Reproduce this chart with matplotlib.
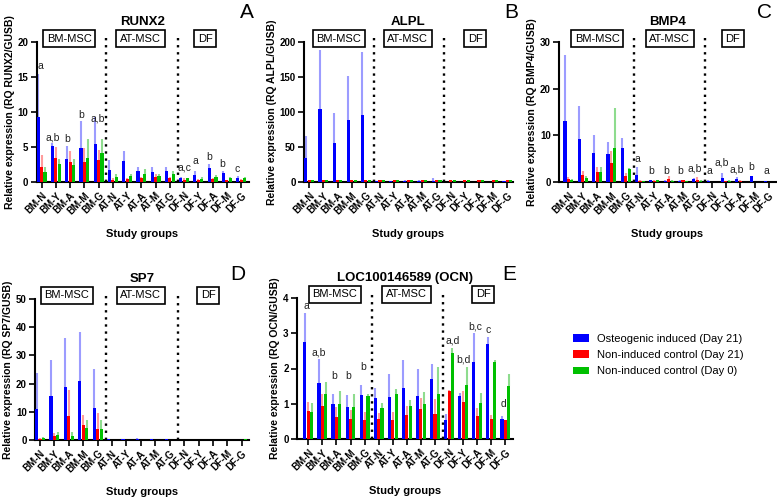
import numpy as np
import matplotlib.pyplot as plt
from matplotlib.patches import Patch

plt.rcParams['font.family'] = ['Liberation Sans', 'DejaVu Sans']

groups = ['BM-N', 'BM-Y', 'BM-A', 'BM-M', 'BM-G',
          'AT-N', 'AT-Y', 'AT-A', 'AT-M', 'AT-G',
          'DF-N', 'DF-Y', 'DF-A', 'DF-M', 'DF-G']
legend_labels = ['Osteogenic induced (Day 21)', 'Non-induced control (Day 21)',
                 'Non-induced control (Day 0)']
region_labels = ['BM-MSC', 'AT-MSC', 'DF']
bar_colors = ['#0000FF', '#FF0000', '#00C000']
err_colors = ['#9C9CFF', '#FF9C9C', '#8EDC8E']

# RUNX2 (mean and top of error bar for induced d21, control d21, control d0)
runx2_ind = [9.3, 5.2, 3.3, 4.8, 5.4, 1.7, 3.0, 1.6, 1.4, 1.6, 0.6, 1.0, 2.0, 1.3, 0.6]
runx2_ind_top = [15.4, 5.6, 5.1, 8.7, 9.3, 3.1, 4.4, 2.2, 2.2, 2.2, 0.7, 1.6, 2.6, 1.5, 0.8]
runx2_c21 = [2.2, 3.4, 2.8, 2.9, 3.1, 0.3, 0.4, 0.5, 0.7, 0.6, 0.3, 0.3, 0.4, 0.3, 0.3]
runx2_c21_top = [3.8, 5.0, 4.4, 4.8, 4.5, 0.5, 0.6, 0.7, 1.2, 0.7, 0.5, 0.4, 0.5, 0.3, 0.4]
runx2_c0 = [1.4, 2.6, 2.4, 3.4, 4.2, 0.7, 0.8, 1.1, 0.9, 1.1, 0.5, 0.4, 0.7, 0.6, 0.6]
runx2_c0_top = [2.1, 3.3, 3.3, 6.1, 6.2, 1.1, 1.1, 1.8, 1.2, 1.6, 0.6, 0.7, 1.0, 0.7, 0.7]
runx2_letters = [(-0.08, 15.9, 'a'), (0.76, 5.7, 'a,b'), (1.76, 5.5, 'b'), (2.77, 8.8, 'b'),
                 (3.96, 8.3, 'a,b'), (10.03, 1.3, 'a,c'), (10.77, 2.3, 'a'), (11.73, 2.9, 'b'),
                 (12.70, 1.8, 'b'), (13.71, 1.2, 'c')]

# ALPL
alpl_ind = [34, 104, 56, 88, 96, 0.8, 0.8, 1.5, 1.2, 2.0, 0.5, 0.5, 0.6, 0.5, 0.8]
alpl_ind_top = [66, 188, 98, 152, 186, 1.2, 1.2, 3.0, 2.5, 5.5, 0.8, 0.8, 0.9, 0.8, 1.3]
alpl_c21 = [2.5, 2.5, 2.5, 2.5, 2.5, 2.5, 2.5, 2.5, 2.5, 2.5, 2.5, 2.5, 2.5, 2.5, 2.5]
alpl_c21_top = [2.8, 2.8, 2.8, 2.8, 2.8, 2.8, 2.8, 2.8, 2.8, 2.8, 2.8, 2.8, 2.8, 2.8, 2.8]
alpl_c0 = [2.2, 2.2, 2.2, 2.2, 2.2, 2.2, 2.2, 2.2, 2.2, 2.2, 2.2, 2.2, 2.2, 2.2, 2.2]
alpl_c0_top = [2.5, 2.5, 2.5, 2.5, 2.5, 2.5, 2.5, 2.5, 2.5, 2.5, 2.5, 2.5, 2.5, 2.5, 2.5]

# BMP4
bmp4_ind = [13.1, 9.2, 6.2, 6.1, 7.2, 1.6, 0.4, 0.3, 0.3, 0.6, 0.3, 0.9, 0.7, 1.2, 0.2]
bmp4_ind_top = [27.2, 16.2, 10.0, 8.5, 9.4, 3.3, 0.5, 0.4, 0.4, 0.9, 0.5, 2.0, 1.0, 1.3, 0.3]
bmp4_c21 = [0.7, 1.5, 2.2, 4.0, 1.3, 0.3, 0.3, 0.6, 0.4, 0.5, 0.1, 0.2, 0.3, 0.1, 0.1]
bmp4_c21_top = [1.0, 2.4, 3.3, 6.6, 2.0, 0.4, 0.4, 1.2, 0.5, 1.0, 0.2, 0.3, 0.5, 0.2, 0.2]
bmp4_c0 = [0.4, 0.8, 2.1, 7.2, 2.7, 0.2, 0.4, 0.3, 0.2, 0.3, 0.1, 0.3, 0.1, 0.1, 0.1]
bmp4_c0_top = [0.6, 1.2, 3.3, 15.8, 3.0, 0.3, 0.5, 0.4, 0.3, 0.4, 0.2, 0.5, 0.2, 0.2, 0.2]
bmp4_letters = [(4.82, 3.9, 'a'), (5.8, 1.3, 'b'), (6.8, 1.3, 'b'), (7.8, 1.3, 'b'),
                (8.85, 1.8, 'a,b'), (9.85, 1.3, 'a'), (10.7, 3.2, 'a,b'), (11.75, 1.6, 'a,b'),
                (12.75, 2.1, 'b'), (13.8, 1.3, 'a')]

# SP7
sp7_ind = [11.0, 15.5, 18.7, 21.0, 11.3, 0.3, 0.3, 0.4, 0.2, 0.3, 0.1, 0.1, 0.1, 0.1, 0.1]
sp7_ind_top = [23.8, 28.4, 36.3, 38.4, 25.2, 0.4, 0.5, 0.6, 0.3, 0.5, 0.2, 0.2, 0.2, 0.2, 0.2]
sp7_c21 = [0.4, 1.4, 8.4, 5.2, 3.8, 0.1, 0.1, 0.1, 0.1, 0.1, 0.1, 0.1, 0.1, 0.1, 0.1]
sp7_c21_top = [0.7, 2.5, 17.8, 8.8, 9.5, 0.2, 0.2, 0.2, 0.2, 0.2, 0.2, 0.2, 0.2, 0.2, 0.2]
sp7_c0 = [0.6, 1.7, 1.4, 4.2, 3.9, 0.1, 0.1, 0.1, 0.1, 0.1, 0.1, 0.1, 0.1, 0.1, 0.2]
sp7_c0_top = [0.9, 3.0, 2.8, 7.0, 7.0, 0.2, 0.2, 0.2, 0.2, 0.2, 0.2, 0.2, 0.2, 0.2, 0.3]

# LOC100146589 (OCN)
ocn_ind = [2.74, 1.60, 0.98, 0.90, 1.24, 1.15, 1.20, 1.46, 1.21, 1.69, 0.54, 1.21, 2.19, 2.69, 0.58]
ocn_ind_top = [3.58, 2.27, 1.27, 1.25, 1.53, 1.44, 1.84, 2.25, 1.98, 2.12, 0.70, 1.30, 3.00, 2.90, 0.64]
ocn_c21 = [0.80, 0.93, 0.63, 0.58, 0.55, 0.58, 0.55, 0.68, 0.85, 0.70, 1.37, 1.06, 0.65, 0.57, 0.53]
ocn_c21_top = [1.05, 1.27, 0.90, 0.82, 0.76, 0.74, 0.76, 0.93, 1.16, 1.13, 1.38, 1.35, 0.87, 0.68, 0.55]
ocn_c0 = [0.78, 1.27, 1.00, 0.92, 1.22, 0.89, 1.29, 0.94, 0.98, 1.29, 2.43, 1.54, 1.03, 2.19, 1.51]
ocn_c0_top = [1.03, 1.62, 1.35, 1.27, 1.29, 1.03, 1.42, 1.12, 1.32, 2.04, 2.57, 2.05, 1.31, 2.24, 1.83]
ocn_letters = [(-0.11, 3.62, 'a'), (0.77, 2.32, 'a,b'), (1.81, 1.65, 'b'), (2.82, 1.65, 'b'),
               (3.88, 1.91, 'b'), (10.23, 2.64, 'a,d'), (11.04, 2.12, 'b,d'), (11.89, 3.06, 'b,c'),
               (12.8, 2.95, 'c'), (13.88, 0.84, 'd')]

W, H = 777, 498
fig = plt.figure(figsize=(W / 100, H / 100), dpi=100)


def add_ax(left, right, top, bottom):
    return fig.add_axes([left / W, 1 - bottom / H, (right - left) / W, (bottom - top) / H])


def draw_panel(ax, means, tops, title, gene, ymax, ystep, letters, box_x, xlim):
    x = np.arange(len(groups))
    offsets = [-0.24, 0.0, 0.24]
    for k in range(3):
        xs = x + offsets[k]
        ax.vlines(xs, means[k], tops[k], color=err_colors[k], lw=1.5, zorder=2)
        ax.bar(xs, means[k], width=0.22, color=bar_colors[k], zorder=3)

    for xd in [4.55, 9.55]:
        ax.plot([xd, xd], [0, ymax * 1.03], color='black', lw=1.7,
                linestyle=(0, (1, 2.0)), clip_on=False, zorder=4)

    for bx, lab in zip(box_x, region_labels):
        ax.text(bx, 1.025, lab, transform=ax.get_xaxis_transform(), ha='center', va='center',
                fontsize=8, zorder=6,
                bbox=dict(boxstyle='square,pad=0.33', fc='white', ec='black', lw=1.2))

    for lx, ly, txt in letters:
        ax.text(lx, ly, txt, ha='center', va='bottom', fontsize=7.5, color='#222222')

    ax.set_xlim(*xlim)
    ax.set_ylim(0, ymax)
    ax.set_yticks(np.arange(0, ymax + ystep / 2, ystep))
    ax.set_xticks(x)
    ax.set_xticklabels(groups, rotation=45, ha='right', rotation_mode='anchor',
                       fontsize=7, fontweight='bold')
    plt.setp(ax.get_yticklabels(), fontweight='bold', fontsize=7)
    ax.tick_params(direction='out', length=4, width=1.2, pad=2)
    for s in ['top', 'right']:
        ax.spines[s].set_visible(False)
    for s in ['left', 'bottom']:
        ax.spines[s].set_linewidth(1.5)
    ax.set_title(title, fontsize=9.5, fontweight='bold', pad=12)
    ax.set_ylabel(f'Relative expression (RQ {gene}/GUSB)', fontsize=7.5,
                  fontweight='bold', labelpad=2)
    ax.set_xlabel('Study groups', fontsize=8, fontweight='bold', labelpad=9)


ax_a = add_ax(36.5, 248.5, 42, 182)
draw_panel(ax_a, [runx2_ind, runx2_c21, runx2_c0], [runx2_ind_top, runx2_c21_top, runx2_c0_top],
           'RUNX2', 'RUNX2', 20, 5, runx2_letters, [1.94, 6.94, 11.49], (-0.36, 14.52))

ax_b = add_ax(304, 513, 42, 182)
draw_panel(ax_b, [alpl_ind, alpl_c21, alpl_c0], [alpl_ind_top, alpl_c21_top, alpl_c0_top],
           'ALPL', 'ALPL', 200, 50, [], [2.1, 6.97, 11.74], (-0.37, 14.4))

ax_c = add_ax(559, 776, 42, 182)
draw_panel(ax_c, [bmp4_ind, bmp4_c21, bmp4_c0], [bmp4_ind_top, bmp4_c21_top, bmp4_c0_top],
           'BMP4', 'BMP4', 30, 10, bmp4_letters, [2.0, 7.09, 11.49], (-0.66, 14.5))

ax_d = add_ax(35, 248.5, 299, 440)
draw_panel(ax_d, [sp7_ind, sp7_c21, sp7_c0], [sp7_ind_top, sp7_c21_top, sp7_c0_top],
           'SP7', 'SP7', 50, 10, [], [1.86, 7.0, 11.66], (-0.35, 14.47))

ax_e = add_ax(297, 513, 298, 439)
draw_panel(ax_e, [ocn_ind, ocn_c21, ocn_c0], [ocn_ind_top, ocn_c21_top, ocn_c0_top],
           'LOC100146589 (OCN)', 'OCN', 4, 1, ocn_letters, [1.89, 6.98, 12.41], (-0.8, 14.54))

for lab, px, py in [('A', 247, 13), ('B', 511, 13), ('C', 764, 13), ('D', 238, 274), ('E', 509, 274)]:
    fig.text(px / W, 1 - py / H, lab, fontsize=15, ha='center', va='center')

handles = [Patch(facecolor=c, edgecolor='none') for c in bar_colors]
fig.legend(handles, legend_labels, loc='upper left', bbox_to_anchor=(573 / W, 1 - 334 / H),
           frameon=False, fontsize=8, handlelength=1.4, handleheight=0.65,
           handletextpad=0.8, labelspacing=0.55, borderpad=0, borderaxespad=0)

fig.savefig('out.png', dpi=100)
